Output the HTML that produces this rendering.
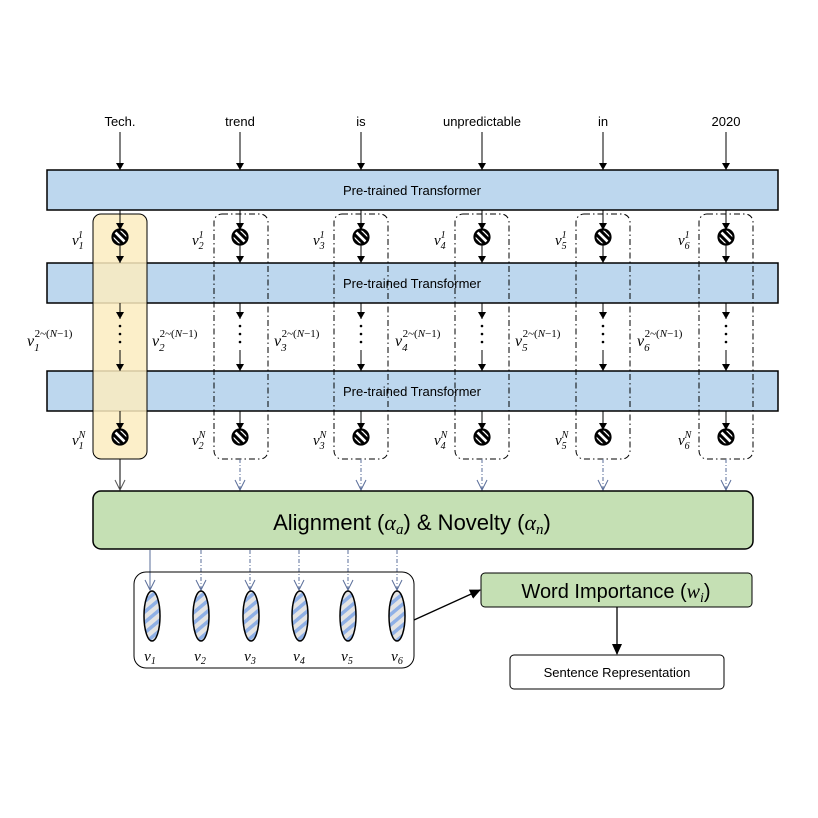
<!DOCTYPE html>
<html><head><meta charset="utf-8"><style>
html,body{margin:0;padding:0;background:#fff;}
svg{display:block;}
.w{font-family:"Liberation Sans",sans-serif;font-size:13px;}
.m{font-family:"Liberation Serif",serif;font-style:italic;}
</style></head><body>
<svg width="818" height="818" viewBox="0 0 818 818" xmlns="http://www.w3.org/2000/svg">
<defs>
<marker id="a" markerWidth="8" markerHeight="8" refX="8" refY="4" orient="auto" markerUnits="userSpaceOnUse"><path d="M1,0 L8,4 L1,8 z" fill="#000"/></marker>
<marker id="o" markerWidth="12" markerHeight="12" refX="11" refY="6" orient="auto" markerUnits="userSpaceOnUse"><path d="M1,1 L11,6 L1,11" fill="none" stroke="#555" stroke-width="1"/></marker>
<marker id="ob" markerWidth="12" markerHeight="12" refX="11" refY="6" orient="auto" markerUnits="userSpaceOnUse"><path d="M1,1 L11,6 L1,11" fill="none" stroke="#5a6e9a" stroke-width="1"/></marker>
<marker id="at" markerWidth="12" markerHeight="12" refX="10" refY="6" orient="auto" markerUnits="userSpaceOnUse"><path d="M0,1 L11,6 L0,11 z" fill="#000"/></marker>
<clipPath id="cc"><circle cx="0" cy="0" r="7.5"/></clipPath>
<g id="c"><circle cx="0" cy="0" r="7.5" fill="#fff"/><g clip-path="url(#cc)" stroke="#000" stroke-width="3"><line x1="-10" y1="-6" x2="6" y2="10"/><line x1="-6" y1="-10" x2="10" y2="6"/><line x1="-11" y1="-1" x2="1" y2="11"/><line x1="-1" y1="-11" x2="11" y2="1"/></g><circle cx="0" cy="0" r="7.5" fill="none" stroke="#000" stroke-width="2.2"/></g>
<pattern id="st" width="8" height="8" patternUnits="userSpaceOnUse" patternTransform="rotate(-40)"><rect width="8" height="8" fill="#e4e4e4"/><rect width="8" height="3.5" fill="#8fb0e6"/></pattern>
</defs>

<g class="w" text-anchor="middle" fill="#000">
<text x="120" y="126">Tech.</text><text x="240" y="126">trend</text><text x="361" y="126">is</text>
<text x="482" y="126">unpredictable</text><text x="603" y="126">in</text><text x="726" y="126">2020</text>
</g>
<g stroke="#000" stroke-width="1" marker-end="url(#a)">
<line x1="120" y1="132" x2="120" y2="170"/><line x1="240" y1="132" x2="240" y2="170"/><line x1="361" y1="132" x2="361" y2="170"/>
<line x1="482" y1="132" x2="482" y2="170"/><line x1="603" y1="132" x2="603" y2="170"/><line x1="726" y1="132" x2="726" y2="170"/>
</g>

<g fill="#bdd7ee" stroke="#000" stroke-width="1.5">
<rect x="47" y="170" width="731" height="40"/>
<rect x="47" y="263" width="731" height="40"/>
<rect x="47" y="371" width="731" height="40"/>
</g>
<g class="w" text-anchor="middle" font-size="13">
<text x="412" y="195">Pre-trained Transformer</text>
<text x="412" y="288">Pre-trained Transformer</text>
<text x="412" y="396">Pre-trained Transformer</text>
</g>

<rect x="93" y="214" width="54" height="245" rx="8" fill="#fcecc0" fill-opacity="0.85" stroke="#000" stroke-width="1"/>
<g fill="none" stroke="#000" stroke-width="1" stroke-dasharray="6,3,1.5,3">
<rect x="214" y="214" width="54" height="245" rx="8"/>
<rect x="334" y="214" width="54" height="245" rx="8"/>
<rect x="455" y="214" width="54" height="245" rx="8"/>
<rect x="576" y="214" width="54" height="245" rx="8"/>
<rect x="699" y="214" width="54" height="245" rx="8"/>
</g>

<g id="col">
<g stroke="#000" stroke-width="1" marker-end="url(#a)">
<line x1="120" y1="210" x2="120" y2="230"/>
<line x1="120" y1="245" x2="120" y2="263"/>
<line x1="120" y1="303" x2="120" y2="319"/>
<line x1="120" y1="350" x2="120" y2="371"/>
<line x1="120" y1="411" x2="120" y2="430"/>
</g>
<g fill="#000"><circle cx="120" cy="326" r="1.3"/><circle cx="120" cy="334" r="1.3"/><circle cx="120" cy="342" r="1.3"/></g>
<use href="#c" x="120" y="237"/><use href="#c" x="120" y="437"/>
</g>
<use href="#col" x="120"/><use href="#col" x="241"/><use href="#col" x="362"/><use href="#col" x="483"/><use href="#col" x="606"/>

<g class="m" font-size="15">
<text x="72" y="245">v<tspan font-size="10" dy="4">1</tspan><tspan font-size="10" dx="-5" dy="-11">1</tspan></text>
<text x="192" y="245">v<tspan font-size="10" dy="4">2</tspan><tspan font-size="10" dx="-5" dy="-11">1</tspan></text>
<text x="313" y="245">v<tspan font-size="10" dy="4">3</tspan><tspan font-size="10" dx="-5" dy="-11">1</tspan></text>
<text x="434" y="245">v<tspan font-size="10" dy="4">4</tspan><tspan font-size="10" dx="-5" dy="-11">1</tspan></text>
<text x="555" y="245">v<tspan font-size="10" dy="4">5</tspan><tspan font-size="10" dx="-5" dy="-11">1</tspan></text>
<text x="678" y="245">v<tspan font-size="10" dy="4">6</tspan><tspan font-size="10" dx="-5" dy="-11">1</tspan></text>

<text x="72" y="445">v<tspan font-size="10" dy="4">1</tspan><tspan font-size="10" dx="-5" dy="-11">N</tspan></text>
<text x="192" y="445">v<tspan font-size="10" dy="4">2</tspan><tspan font-size="10" dx="-5" dy="-11">N</tspan></text>
<text x="313" y="445">v<tspan font-size="10" dy="4">3</tspan><tspan font-size="10" dx="-5" dy="-11">N</tspan></text>
<text x="434" y="445">v<tspan font-size="10" dy="4">4</tspan><tspan font-size="10" dx="-5" dy="-11">N</tspan></text>
<text x="555" y="445">v<tspan font-size="10" dy="4">5</tspan><tspan font-size="10" dx="-5" dy="-11">N</tspan></text>
<text x="678" y="445">v<tspan font-size="10" dy="4">6</tspan><tspan font-size="10" dx="-5" dy="-11">N</tspan></text>
</g>
<g class="m" font-size="16">
<text x="27" y="346">v<tspan font-size="11" dy="5">1</tspan><tspan font-size="11" dx="-5" dy="-14" font-style="normal">2~(</tspan><tspan font-size="11">N</tspan><tspan font-size="11" font-style="normal">−1)</tspan></text>
<text x="152" y="346">v<tspan font-size="11" dy="5">2</tspan><tspan font-size="11" dx="-5" dy="-14" font-style="normal">2~(</tspan><tspan font-size="11">N</tspan><tspan font-size="11" font-style="normal">−1)</tspan></text>
<text x="274" y="346">v<tspan font-size="11" dy="5">3</tspan><tspan font-size="11" dx="-5" dy="-14" font-style="normal">2~(</tspan><tspan font-size="11">N</tspan><tspan font-size="11" font-style="normal">−1)</tspan></text>
<text x="395" y="346">v<tspan font-size="11" dy="5">4</tspan><tspan font-size="11" dx="-5" dy="-14" font-style="normal">2~(</tspan><tspan font-size="11">N</tspan><tspan font-size="11" font-style="normal">−1)</tspan></text>
<text x="515" y="346">v<tspan font-size="11" dy="5">5</tspan><tspan font-size="11" dx="-5" dy="-14" font-style="normal">2~(</tspan><tspan font-size="11">N</tspan><tspan font-size="11" font-style="normal">−1)</tspan></text>
<text x="637" y="346">v<tspan font-size="11" dy="5">6</tspan><tspan font-size="11" dx="-5" dy="-14" font-style="normal">2~(</tspan><tspan font-size="11">N</tspan><tspan font-size="11" font-style="normal">−1)</tspan></text>
</g>

<line x1="120" y1="459" x2="120" y2="490" stroke="#000" stroke-width="1" marker-end="url(#o)"/>
<g stroke="#5a6e9a" stroke-width="1" stroke-dasharray="4,2,1,2" marker-end="url(#ob)">
<line x1="240" y1="459" x2="240" y2="490"/><line x1="361" y1="459" x2="361" y2="490"/><line x1="482" y1="459" x2="482" y2="490"/>
<line x1="603" y1="459" x2="603" y2="490"/><line x1="726" y1="459" x2="726" y2="490"/>
</g>

<rect x="93" y="491" width="660" height="58" rx="8" fill="#c5e0b4" stroke="#000" stroke-width="1.5"/>
<text x="412" y="530" text-anchor="middle" font-family="Liberation Sans,sans-serif" font-size="22">Alignment (<tspan class="m">α</tspan><tspan class="m" font-size="15" dy="4">a</tspan><tspan dy="-4">) &amp; Novelty (</tspan><tspan class="m">α</tspan><tspan class="m" font-size="15" dy="4">n</tspan><tspan dy="-4">)</tspan></text>

<line x1="150" y1="550" x2="150" y2="590" stroke="#5a6e9a" stroke-width="1" marker-end="url(#ob)"/>
<g stroke="#5a6e9a" stroke-width="1" stroke-dasharray="4,2,1,2" marker-end="url(#ob)">
<line x1="201" y1="550" x2="201" y2="590"/><line x1="250" y1="550" x2="250" y2="590"/><line x1="299" y1="550" x2="299" y2="590"/>
<line x1="348" y1="550" x2="348" y2="590"/><line x1="397" y1="550" x2="397" y2="590"/>
</g>

<rect x="134" y="572" width="280" height="96" rx="12" fill="none" stroke="#000" stroke-width="1"/>
<g fill="url(#st)" stroke="#000" stroke-width="1.5">
<ellipse cx="152" cy="616" rx="8" ry="25"/><ellipse cx="201" cy="616" rx="8" ry="25"/><ellipse cx="251" cy="616" rx="8" ry="25"/>
<ellipse cx="300" cy="616" rx="8" ry="25"/><ellipse cx="348" cy="616" rx="8" ry="25"/><ellipse cx="397" cy="616" rx="8" ry="25"/>
</g>
<g class="m" font-size="15" text-anchor="middle">
<text x="150" y="661">v<tspan font-size="10" dy="3">1</tspan></text><text x="200" y="661">v<tspan font-size="10" dy="3">2</tspan></text>
<text x="250" y="661">v<tspan font-size="10" dy="3">3</tspan></text><text x="299" y="661">v<tspan font-size="10" dy="3">4</tspan></text>
<text x="347" y="661">v<tspan font-size="10" dy="3">5</tspan></text><text x="397" y="661">v<tspan font-size="10" dy="3">6</tspan></text>
</g>

<line x1="414" y1="620" x2="480" y2="590" stroke="#000" stroke-width="1.3" marker-end="url(#at)"/>
<rect x="481" y="573" width="271" height="34" rx="4" fill="#c5e0b4" stroke="#000" stroke-width="1"/>
<text x="616" y="598" text-anchor="middle" font-family="Liberation Sans,sans-serif" font-size="20">Word Importance (<tspan class="m">w</tspan><tspan class="m" font-size="14" dy="4">i</tspan><tspan dy="-4">)</tspan></text>
<line x1="617" y1="607" x2="617" y2="654" stroke="#000" stroke-width="1.3" marker-end="url(#at)"/>
<rect x="510" y="655" width="214" height="34" rx="4" fill="#fff" stroke="#000" stroke-width="1"/>
<text x="617" y="677" text-anchor="middle" class="w" font-size="14">Sentence Representation</text>
</svg>
</body></html>
